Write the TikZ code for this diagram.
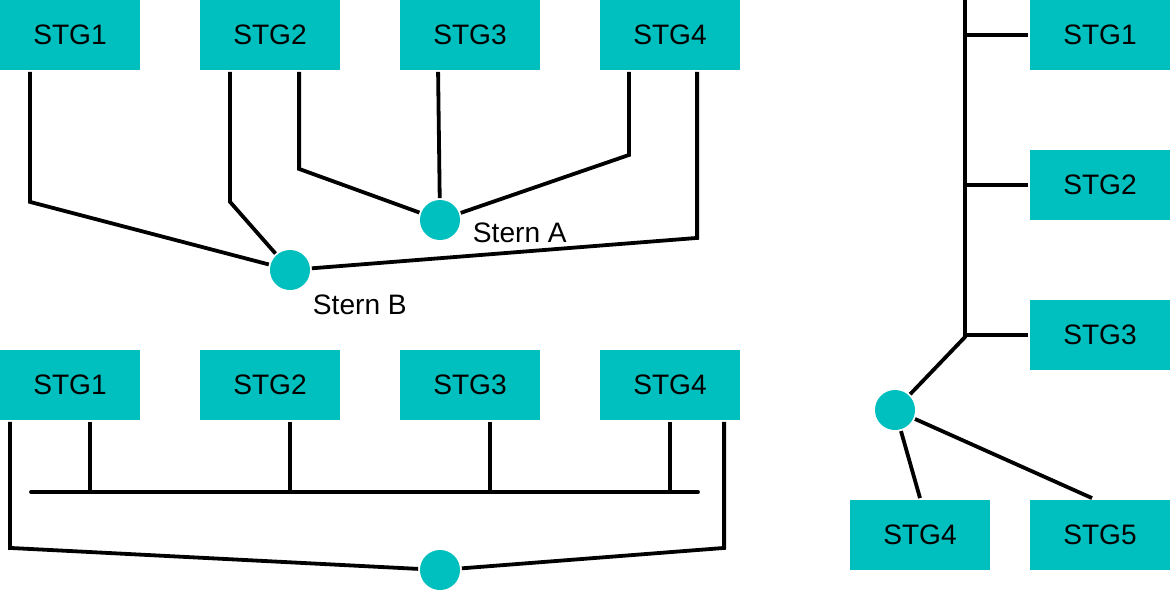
\documentclass[tikz,border=0pt]{standalone}
\usepackage{fontspec}
\setmainfont{Liberation Sans}
\usepackage{xcolor}
\usepackage{tikz}
\usetikzlibrary{
	positioning,						% Relative positioning
	calc								% Calculate point coordinates
}
\definecolor{stgteal}{RGB}{0, 191, 191}

\begin{document}
\begin{tikzpicture}[x=0.01cm, y=-0.01cm, line width=0.038cm]
		\tikzstyle{box} = [fill=stgteal, minimum width=1.4cm, minimum height=0.7cm, inner sep=0pt, font=\fontsize{8pt}{9.6pt}\selectfont]
		\tikzstyle{star} = [circle, fill=stgteal, minimum size=0.4cm, inner sep=0pt]
		\tikzstyle{label} = [anchor=base west, inner sep=0pt, font=\fontsize{8pt}{9.6pt}\selectfont]
		\useasboundingbox (0,0) rectangle (1170,590);
		
		% Two stars
		%% Stations
		\foreach \idx in {1, ..., 4}{
			\pgfmathtruncatemacro{\posX}{200*\idx - 130}
			\node[box] at (\posX, 35) (topBox\idx) {STG\idx};
		}
		%% Star points and labels
		\node[star] at (440, 220) (sternA) {};
		\node[star] at (290, 270) (sternB) {};
		\node[label] at ([shift={(0.31cm,-0.22cm)}]sternA.center) (sternALabel) {Stern A};
		\node[label] at ([shift={(0.21cm,-0.44cm)}]sternB.center) (sternBLabel) {Stern B};
		%% Lines to star A
		\draw ([xshift=1.01cm]topBox2.south west) -- ++(0,97) -- (sternA);
		\draw ([xshift=0.40cm]topBox3.south west) -- (sternA);
		\draw ([xshift=0.31cm]topBox4.south west) -- ++(0,83) -- (sternA);
		%% Lines to star B
		\draw ([xshift=0.32cm]topBox1.south west) -- ++(0,130) -- (sternB);
		\draw ([xshift=0.32cm]topBox2.south west) -- ++(0,130) -- (sternB);
		\draw ([xshift=0.99cm]topBox4.south west) -- ++(0,166) -- (sternB);
		
		% Bus and ring
		%% Stations
		\foreach \idx in {1, ..., 4}{
			\pgfmathtruncatemacro{\posX}{200*\idx - 130}
			\node[box] at (\posX, 385) (busBox\idx) {STG\idx};
		}
		%% Bus line
		\coordinate (busLeft) at (31, 492);
		\coordinate (busRight) at (698, 492);
		\draw[line cap=round] (busLeft) -- (busRight);
		\foreach \idx/\off in {1/0.92, 2/0.92, 3/0.92, 4/0.72}{
			\draw ([xshift=\off cm]busBox\idx.south west) -- ++(0,72);
		}
		%% Second star below the bus
		\node[star] at (440, 570) (busStar) {};
		\draw ([xshift=0.12cm]busBox1.south west) -- ++(0,126) -- (busStar);
		\draw ([xshift=1.26cm]busBox4.south west) -- ++(0,126) -- (busStar);
		
		% Tree
		%% Stations
		\foreach \idx in {1, 2, 3}{
			\pgfmathtruncatemacro{\posY}{150*\idx - 115}
			\node[box] at (1100, \posY) (treeBox\idx) {STG\idx};
		}
		\node[box] at (920, 535) (treeBox4) {STG4};
		\node[box] at (1100, 535) (treeBox5) {STG5};
		%% Trunk and branches
		\coordinate (treeTop) at (965, 0);
		\coordinate (treeFork) at (965, 337);
		\node[star] at (895, 410) (treeStar) {};
		\draw (treeTop) -- (treeFork) -- (treeStar);
		\foreach \idx in {1, 2, 3}{
			\draw (treeBox\idx.west) -- (treeBox\idx.west -| treeTop);
		}
		\draw (treeStar) -- (treeBox4.north);
		\draw (treeStar) -- ([xshift=-0.08cm]treeBox5.north);
	\end{tikzpicture}
\end{document}
